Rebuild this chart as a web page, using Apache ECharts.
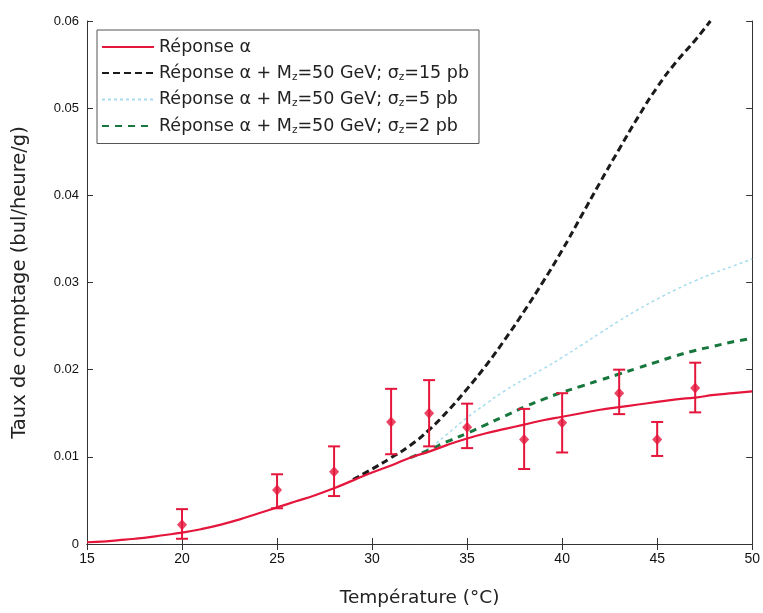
<!DOCTYPE html>
<html>
<head>
<meta charset="utf-8">
<script src="https://cdn.jsdelivr.net/npm/echarts@6/dist/echarts.min.js"></script>
<style>
    html, body { margin: 0; padding: 0; background: #fff; }
    #chart { width: 763px; height: 613px; }
</style>
</head>
<body>
<div id="chart"></div>
<script>
// courbe "Réponse α"
var alphaT = [15, 16, 17, 18, 19, 20, 21, 22, 23, 24, 25, 26, 27, 28, 29, 30, 31, 32, 33, 34, 35, 36, 37, 38, 39, 40, 41, 42, 43, 44, 45, 46, 47, 48, 49, 50];
var alphaRate = [0.0002, 0.0003, 0.0005, 0.0007, 0.0010, 0.0013, 0.0017, 0.0022, 0.0028, 0.0035, 0.0042, 0.0049, 0.0056, 0.0064, 0.0073, 0.0082, 0.0090, 0.0099, 0.0106, 0.0114, 0.0121, 0.0127, 0.0132, 0.0137, 0.0142, 0.0146, 0.0150, 0.0154, 0.0157, 0.0160, 0.0163, 0.0166, 0.0168, 0.0171, 0.0173, 0.0175];

// sigma = 15 pb
var wimp15T = [29, 30, 31, 32, 33, 34, 35, 36, 37, 38, 39, 40, 41, 42, 43, 44, 45, 46, 47, 47.8];
var wimp15Rate = [0.0074, 0.0086, 0.0099, 0.0113, 0.0131, 0.0153, 0.0178, 0.0205, 0.0235, 0.0267, 0.0301, 0.0337, 0.0376, 0.0415, 0.0453, 0.0490, 0.0524, 0.0553, 0.0578, 0.0600];

// sigma = 5 pb
var wimp5T = [32, 33, 34, 35, 36, 37, 38, 39, 40, 41, 42, 43, 44, 45, 46, 47, 48, 49, 50];
var wimp5Rate = [0.0099, 0.0110, 0.0127, 0.0145, 0.0161, 0.0176, 0.0189, 0.0201, 0.0214, 0.0228, 0.0242, 0.0256, 0.0269, 0.0281, 0.0292, 0.0302, 0.0311, 0.0319, 0.0327];

// sigma = 2 pb
var wimp2T = [32, 33, 34, 35, 36, 37, 38, 39, 40, 41, 42, 43, 44, 45, 46, 47, 48, 49, 50];
var wimp2Rate = [0.0099, 0.0108, 0.0118, 0.0127, 0.0137, 0.0147, 0.0157, 0.0166, 0.0174, 0.0181, 0.0188, 0.0195, 0.0202, 0.0209, 0.0216, 0.0222, 0.0227, 0.0232, 0.0236];

// points de mesure
var measT = [20, 25, 28, 31, 33, 35, 38, 40, 43, 45, 47];
var measRate = [0.0022, 0.0062, 0.0083, 0.0140, 0.0150, 0.0134, 0.0120, 0.0139, 0.0173, 0.0120, 0.0179];
var measLow = [0.0006, 0.0041, 0.0055, 0.0103, 0.0112, 0.0110, 0.0086, 0.0105, 0.0149, 0.0101, 0.0151];
var measHigh = [0.0040, 0.0080, 0.0112, 0.0178, 0.0188, 0.0161, 0.0155, 0.0173, 0.0200, 0.0140, 0.0208];

var seriesNames = [
    "Réponse α",
    "Réponse α + Mz=50 GeV; σz=15 pb",
    "Réponse α + Mz=50 GeV; σz=5 pb",
    "Réponse α + Mz=50 GeV; σz=2 pb"
];
var legendLabels = [
    "Réponse α",
    "Réponse α + M{sub|z}=50 GeV; σ{sub|z}=15 pb",
    "Réponse α + M{sub|z}=50 GeV; σ{sub|z}=5 pb",
    "Réponse α + M{sub|z}=50 GeV; σ{sub|z}=2 pb"
];

var RED = "#e5163c";
var FONT = "Liberation Sans, Arial, sans-serif";
var WIDE = "DejaVu Sans, sans-serif";

const zip = (xs, ys) => xs.map((x, i) => [x, ys[i]]);

const errorBarItem = (params, api) => {
    var x = api.value(0);
    var lo = api.coord([x, api.value(1)]);
    var hi = api.coord([x, api.value(2)]);
    var half = 6;
    var style = { stroke: RED, lineWidth: 2 };
    return {
        type: "group",
        children: [
            { type: "line", shape: { x1: hi[0], y1: hi[1], x2: lo[0], y2: lo[1] }, style: style },
            { type: "line", shape: { x1: hi[0] - half, y1: hi[1], x2: hi[0] + half, y2: hi[1] }, style: style },
            { type: "line", shape: { x1: lo[0] - half, y1: lo[1], x2: lo[0] + half, y2: lo[1] }, style: style }
        ]
    };
};

const tickAxis = (pos, isX) => {
    // axes miroir (haut / droite) : uniquement les graduations
    return {
        type: "value",
        position: pos,
        min: isX ? 15 : 0,
        max: isX ? 50 : 0.06,
        interval: isX ? 5 : 0.01,
        axisLine: { show: true, lineStyle: { color: "#333", width: 1 } },
        axisTick: { show: true, inside: true, length: 6, lineStyle: { color: "#333" } },
        axisLabel: { show: false },
        splitLine: { show: false }
    };
};

var chart = echarts.init(document.getElementById("chart"));

var option = {
    backgroundColor: "#fff",
    animation: false,
    grid: { left: 87, right: 10, top: 21, bottom: 65 },
    legend: {
        left: 97,
        top: 30,
        orient: "vertical",
        padding: [8, 10, 8, 4],
        itemGap: 8,
        itemWidth: 52,
        itemHeight: 14,
        backgroundColor: "#fff",
        borderColor: "#555",
        borderWidth: 1,
        itemStyle: { opacity: 0 },
        data: seriesNames,
        formatter: name => legendLabels[seriesNames.indexOf(name)],
        textStyle: {
            fontFamily: WIDE,
            fontSize: 17.5,
            color: "#222",
            rich: {
                sub: { fontSize: 10.5, verticalAlign: "bottom", padding: [8, 0, 0, 0], fontFamily: WIDE, color: "#222" }
            }
        }
    },
    xAxis: [
        {
            type: "value",
            min: 15,
            max: 50,
            interval: 5,
            name: "Température (°C)",
            nameLocation: "middle",
            nameGap: 45,
            nameTextStyle: { fontFamily: WIDE, fontSize: 18.5, color: "#222" },
            axisLine: { show: true, lineStyle: { color: "#333", width: 1 } },
            axisTick: { show: true, inside: true, length: 6, lineStyle: { color: "#333" } },
            axisLabel: { fontFamily: FONT, fontSize: 14, color: "#111", margin: 8 },
            splitLine: { show: false }
        },
        tickAxis("top", true)
    ],
    yAxis: [
        {
            type: "value",
            min: 0,
            max: 0.06,
            interval: 0.01,
            name: "Taux de comptage (bul/heure/g)",
            nameLocation: "middle",
            nameGap: 57,
            nameTextStyle: { fontFamily: WIDE, fontSize: 19.5, color: "#222" },
            axisLine: { show: true, lineStyle: { color: "#333", width: 1 } },
            axisTick: { show: true, inside: true, length: 6, lineStyle: { color: "#333" } },
            axisLabel: {
                fontFamily: FONT,
                fontSize: 13,
                color: "#111",
                margin: 8,
                formatter: v => (v === 0 ? "0" : v.toFixed(2))
            },
            splitLine: { show: false }
        },
        tickAxis("right", false)
    ],
    series: [
        {
            name: seriesNames[0],
            type: "line",
            symbol: "none",
            smooth: 0.5,
            lineStyle: { color: RED, width: 2.2 },
            itemStyle: { color: RED },
            data: zip(alphaT, alphaRate),
            z: 5
        },
        {
            name: seriesNames[1],
            type: "line",
            symbol: "none",
            smooth: 0.5,
            lineStyle: { color: "#1b1b1b", width: 3, type: [7, 4] },
            itemStyle: { color: "#1b1b1b" },
            data: zip(wimp15T, wimp15Rate),
            z: 4
        },
        {
            name: seriesNames[2],
            type: "line",
            symbol: "none",
            smooth: 0.5,
            lineStyle: { color: "#a6dcee", width: 1.5, type: [3, 3] },
            itemStyle: { color: "#a6dcee" },
            data: zip(wimp5T, wimp5Rate),
            z: 3
        },
        {
            name: seriesNames[3],
            type: "line",
            symbol: "none",
            smooth: 0.5,
            lineStyle: { color: "#17773d", width: 3, type: [7, 6] },
            itemStyle: { color: "#17773d" },
            data: zip(wimp2T, wimp2Rate),
            z: 3
        },
        {
            name: "erreurs",
            type: "custom",
            renderItem: errorBarItem,
            encode: { x: 0, y: [1, 2] },
            data: measT.map((t, i) => [t, measLow[i], measHigh[i]]),
            z: 6
        },
        {
            name: "mesures",
            type: "scatter",
            symbol: "diamond",
            symbolSize: [10, 11],
            itemStyle: { color: RED },
            data: zip(measT, measRate),
            z: 7
        }
    ]
};

chart.setOption(option);
</script>
</body>
</html>
